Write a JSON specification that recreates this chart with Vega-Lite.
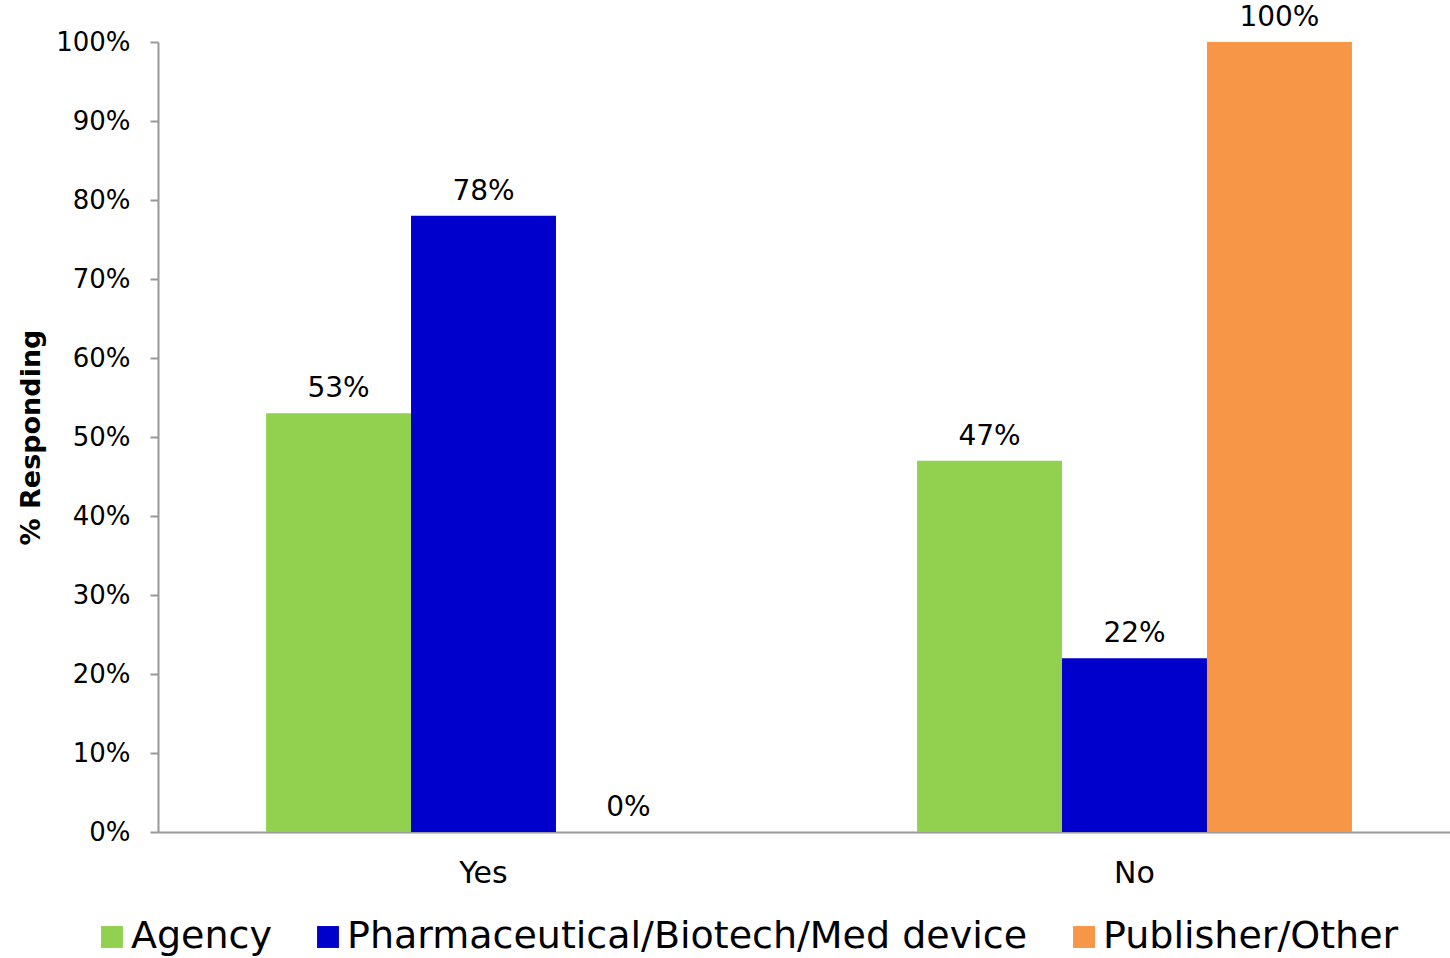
{
  "$schema": "https://vega.github.io/schema/vega-lite/v6.json",
  "width": 1302,
  "height": 790,
  "autosize": "none",
  "padding": {"left": 158, "top": 42, "right": 0, "bottom": 126},
  "background": "white",
  "config": {
    "font": "DejaVu Sans",
    "view": {"stroke": null}
  },
  "data": {
    "values": [
      {"answer": "Yes", "group": "Agency", "value": 0.53},
      {"answer": "Yes", "group": "Pharmaceutical/Biotech/Med device", "value": 0.78},
      {"answer": "Yes", "group": "Publisher/Other", "value": 0.0},
      {"answer": "No", "group": "Agency", "value": 0.47},
      {"answer": "No", "group": "Pharmaceutical/Biotech/Med device", "value": 0.22},
      {"answer": "No", "group": "Publisher/Other", "value": 1.0}
    ]
  },
  "encoding": {
    "x": {
      "field": "answer", "type": "nominal", "sort": ["Yes", "No"],
      "scale": {"paddingInner": 0.332, "paddingOuter": 0.166},
      "axis": {"title": null, "labelAngle": 0, "labelFontSize": 30, "labelColor": "#000", "ticks": false, "labelPadding": 26, "domainColor": "#999999", "domainWidth": 2}
    },
    "xOffset": {
      "field": "group", "type": "nominal",
      "sort": ["Agency", "Pharmaceutical/Biotech/Med device", "Publisher/Other"],
      "scale": {"paddingInner": 0, "paddingOuter": 0}
    },
    "y": {
      "field": "value", "type": "quantitative",
      "scale": {"domain": [0, 1], "nice": false},
      "axis": {"title": "% Responding", "titleFontSize": 27, "titleFontWeight": "bold", "titleColor": "#000", "titlePadding": 10,
        "format": ".0%", "values": [0, 0.1, 0.2, 0.3, 0.4, 0.5, 0.6, 0.7, 0.8, 0.9, 1.0],
        "labelFontSize": 26, "labelColor": "#000", "labelPadding": 20, "tickSize": 8, "tickColor": "#999999", "tickWidth": 2,
        "domainColor": "#999999", "domainWidth": 2, "grid": false}
    }
  },
  "layer": [
    {
      "mark": {"type": "bar"},
      "encoding": {
        "color": {
          "field": "group", "type": "nominal",
          "sort": ["Agency", "Pharmaceutical/Biotech/Med device", "Publisher/Other"],
          "scale": {"domain": ["Agency", "Pharmaceutical/Biotech/Med device", "Publisher/Other"], "range": ["#92D050", "#0000CC", "#F79646"]},
          "legend": {"title": null, "orient": "none", "direction": "horizontal", "legendX": -65, "legendY": 876,
            "symbolType": "square", "symbolSize": 480, "symbolStrokeWidth": 0, "labelFontSize": 38, "labelColor": "#000",
            "labelOffset": 0, "columnPadding": 37, "labelLimit": 1000}
        }
      }
    },
    {
      "mark": {"type": "text", "baseline": "bottom", "dy": -10, "fontSize": 28, "color": "#000"},
      "encoding": {
        "text": {"field": "value", "type": "quantitative", "format": ".0%"}
      }
    }
  ]
}
